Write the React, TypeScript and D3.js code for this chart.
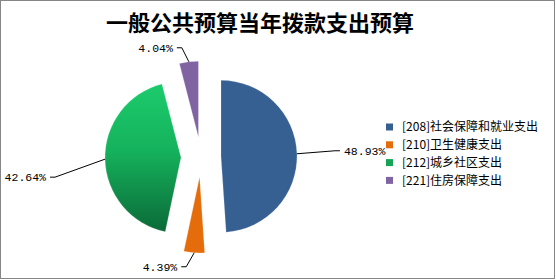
import React from "react";
import * as d3 from "d3";

const TITLE = "一般公共预算当年拨款支出预算";
const categories = ["[208]社会保障和就业支出", "[210]卫生健康支出", "[212]城乡社区支出", "[221]住房保障支出"];
const values = [48.93, 4.39, 42.64, 4.04];
const labels = ["48.93%", "4.39%", "42.64%", "4.04%"];
const colors = ["#366092", "#e46c0a", "url(#greenGrad)", "#8064a2"];
const legendColors = ["#366092", "#e46c0a", "#17a356", "#8064a2"];

// label leader geometry: knee offset from arc point, horizontal direction
const labelKnee: [number, number][] = [[38, -3], [-8, 14], [-50, 18], [-7, -14]];
const labelDir = [1, -1, -1, -1];

export default function App() {
  const W = 556, H = 280;
  const cx = 201, cy = 157, r = 76, explode = 20;
  const pie = d3.pie<number>().sort(null).value((d) => d);
  const arcs = pie(values);
  const arcGen = d3.arc<d3.PieArcDatum<number>>().innerRadius(0).outerRadius(r);

  return (
    <svg width={W} height={H} style={{ position: "absolute", left: 0, top: 0, background: "#fff" }}>
      <defs>
        <linearGradient id="greenGrad" x1="0" y1="0" x2="0" y2="1">
          <stop offset="0%" stopColor="#1ccb6c" />
          <stop offset="45%" stopColor="#15b25c" />
          <stop offset="100%" stopColor="#0b6a38" />
        </linearGradient>
      </defs>
      <rect x={0.5} y={0.5} width={554} height={278} fill="#fff" stroke="#868686" strokeWidth={1} />
      <text x={260} y={31} textAnchor="middle" fontFamily="'Noto Sans CJK SC'" fontWeight={700} fontSize={22} fill="#000">
        {TITLE}
      </text>
      {arcs.map((a, i) => {
        const mid = (a.startAngle + a.endAngle) / 2;
        const ox = cx + explode * Math.sin(mid);
        const oy = cy - explode * Math.cos(mid);
        const px = ox + r * Math.sin(mid);
        const py = oy - r * Math.cos(mid);
        const kx = px + labelKnee[i][0];
        const ky = py + labelKnee[i][1];
        const ex = kx + labelDir[i] * 5;
        const tx = ex + labelDir[i] * 4;
        return (
          <g key={i}>
            <path d={arcGen(a) || ""} transform={`translate(${ox},${oy})`} fill={colors[i]} stroke="#ffffff" strokeOpacity={0.3} strokeWidth={0.6} />
            <polyline points={`${px},${py} ${kx},${ky} ${ex},${ky}`} fill="none" stroke="#000" strokeWidth={1} />
            <text x={tx} y={ky} dy="0.35em" textAnchor={labelDir[i] > 0 ? "start" : "end"} fontFamily="'Liberation Mono'" fontSize={11.5} fill="#000">
              {labels[i]}
            </text>
          </g>
        );
      })}
      {categories.map((c, i) => (
        <g key={c} transform={`translate(386,${127 + i * 17.8})`}>
          <rect x={0} y={-3.5} width={7} height={7} fill={legendColors[i]} />
          <text x={16} y={0} dy="0.36em" fontFamily="'Noto Sans CJK SC'" fontSize={12} fill="#000">
            {c}
          </text>
        </g>
      ))}
    </svg>
  );
}
